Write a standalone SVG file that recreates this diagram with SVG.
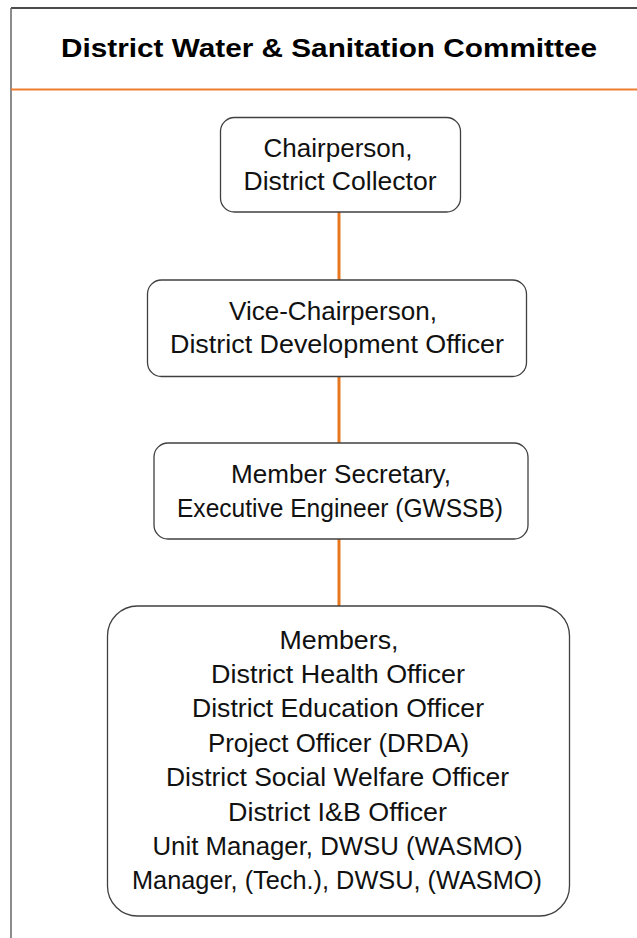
<svg xmlns="http://www.w3.org/2000/svg" width="637" height="938" viewBox="0 0 637 938">
<style>
.frame{fill:none;stroke:#555;stroke-width:1.5}
.box{fill:#fff;stroke:#404040;stroke-width:1.3}
.conn{stroke:#E8761E;stroke-width:3;fill:none}
.title{font-family:"Liberation Sans",Arial,sans-serif;font-weight:bold;font-size:26px;fill:#000;text-anchor:middle}
.t{font-family:"Liberation Sans",Arial,sans-serif;font-size:25px;fill:#111;text-anchor:middle}
</style>
<rect x="0" y="0" width="637" height="938" fill="#fff"/>
<g id="frame">
<line x1="11" y1="8" x2="637" y2="8" stroke="#111" stroke-width="1.5"/>
<line x1="11" y1="8" x2="11" y2="938" stroke="#666" stroke-width="1.5"/>
<line x1="11" y1="89.5" x2="637" y2="89.5" stroke="#ED7D31" stroke-width="2"/>
</g>
<g id="title">
<text class="title" x="329" y="56.5" textLength="536" lengthAdjust="spacingAndGlyphs">District Water &amp; Sanitation Committee</text>
</g>
<g id="connectors">
<line class="conn" x1="339" y1="212" x2="339" y2="280"/>
<line class="conn" x1="339" y1="376" x2="339" y2="443"/>
<line class="conn" x1="339" y1="539" x2="339" y2="606"/>
</g>
<g id="chairperson">
<rect class="box" x="220.5" y="117.5" width="240" height="94.5" rx="14"/>
<text class="t" x="338" y="156.7" textLength="149" lengthAdjust="spacingAndGlyphs">Chairperson,</text>
<text class="t" x="340" y="190" textLength="193" lengthAdjust="spacingAndGlyphs">District Collector</text>
</g>
<g id="vice-chairperson">
<rect class="box" x="147.5" y="280" width="379" height="96.5" rx="14"/>
<text class="t" x="333" y="319.5" textLength="208" lengthAdjust="spacingAndGlyphs">Vice-Chairperson,</text>
<text class="t" x="337" y="353" textLength="334" lengthAdjust="spacingAndGlyphs">District Development Officer</text>
</g>
<g id="member-secretary">
<rect class="box" x="154" y="443" width="374" height="96" rx="14"/>
<text class="t" x="341" y="483" textLength="220" lengthAdjust="spacingAndGlyphs">Member Secretary,</text>
<text class="t" x="340" y="516.7" textLength="326" lengthAdjust="spacingAndGlyphs">Executive Engineer (GWSSB)</text>
</g>
<g id="members">
<rect class="box" x="107.5" y="606" width="462" height="310" rx="30"/>
<text class="t" x="339" y="648.5" textLength="119" lengthAdjust="spacingAndGlyphs">Members,</text>
<text class="t" x="338" y="683" textLength="254" lengthAdjust="spacingAndGlyphs">District Health Officer</text>
<text class="t" x="338" y="717.4" textLength="292" lengthAdjust="spacingAndGlyphs">District Education Officer</text>
<text class="t" x="338.5" y="751.8" textLength="261" lengthAdjust="spacingAndGlyphs">Project Officer (DRDA)</text>
<text class="t" x="337.5" y="786.2" textLength="343" lengthAdjust="spacingAndGlyphs">District Social Welfare Officer</text>
<text class="t" x="337.5" y="820.6" textLength="219" lengthAdjust="spacingAndGlyphs">District I&amp;B Officer</text>
<text class="t" x="337.5" y="855" textLength="370" lengthAdjust="spacingAndGlyphs">Unit Manager, DWSU (WASMO)</text>
<text class="t" x="337" y="889.4" textLength="410" lengthAdjust="spacingAndGlyphs">Manager, (Tech.), DWSU, (WASMO)</text>
</g>
</svg>
